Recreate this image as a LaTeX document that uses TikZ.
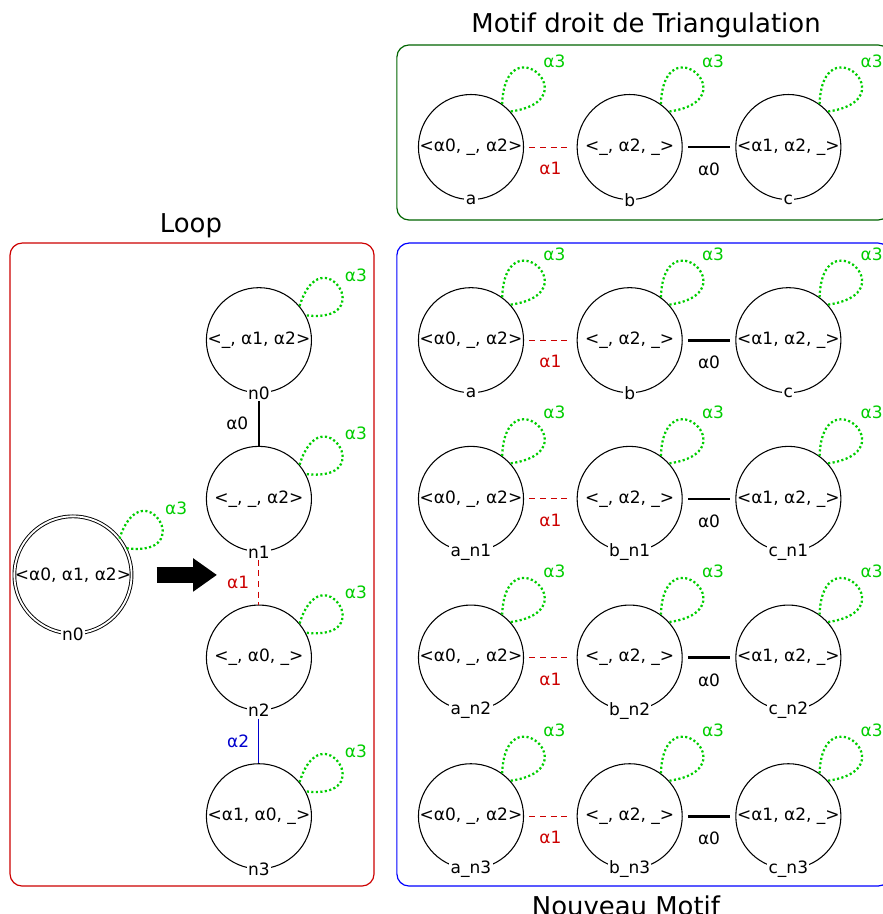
\documentclass[tikz,border=0pt]{standalone}
\usepackage{fontspec}
\setmainfont{DejaVu Sans}
\usetikzlibrary{arrows.meta, positioning}
\definecolor{loopRed}{RGB}{204,0,0}
\definecolor{motifGreen}{RGB}{0,100,0}
\definecolor{newBlue}{RGB}{0,0,255}
\definecolor{alphaGreen}{RGB}{0,205,0}
\definecolor{alphaRed}{RGB}{204,0,0}
\definecolor{alphaBlue}{RGB}{0,0,205}
\newcommand{\dartfont}{\fontsize{12.8}{15}\selectfont}
\newcommand{\titlefont}{\fontsize{19.5}{23}\selectfont}

\begin{document}
\begin{tikzpicture}[
    dart/.style={circle, draw, line width=0.8pt, minimum size=2.78cm, inner sep=0pt, font=\dartfont},
    bigdart/.style={dart, double, line width=0.7pt, double distance=1.4pt, minimum size=3.1cm},
    dartname/.style={fill=white, inner sep=1pt, anchor=center, font=\dartfont},
    alphalabel/.style={font=\dartfont, inner sep=1pt},
    alphathree/.style={alphalabel, text=alphaGreen, pos=0.5, anchor=south west, inner sep=3.5pt},
    alphazero/.style={line width=2pt},
    alphaone/.style={draw=alphaRed, line width=0.8pt, dash pattern=on 4.5pt off 3.5pt},
    alphatwo/.style={draw=alphaBlue, line width=0.8pt},
    gap/.style={shorten <=4pt, shorten >=4pt},
    selfloop/.style={draw=alphaGreen, line width=1.7pt, dash pattern=on 1.6pt off 1.8pt},
    fatarrow/.style={line width=12pt, -{Triangle[length=18pt, width=24pt]}, shorten <=0.65cm},
    cluster/.style={line width=0.9pt, rounded corners=0.32cm}
  ]
  \useasboundingbox (0,0) rectangle (23.36,-24.18);
  \clip (0,0) rectangle (23.36,-24.18);

  % clusters and titles
  \draw[cluster, draw=loopRed] (0.265,-6.43) rectangle (9.895,-23.44);
  \draw[cluster, draw=motifGreen] (10.50,-1.19) rectangle (23.55,-5.82);
  \draw[cluster, draw=newBlue] (10.50,-6.43) rectangle (23.55,-23.44);
  \node[font=\titlefont] (looptitle) at (5.05,-5.98) {Loop};
  \node[font=\titlefont] (motiftitle) at (17.09,-0.66) {Motif droit de Triangulation};
  \node[font=\titlefont] (newtitle) at (16.56,-23.97) {Nouveau Motif};

  % loop
  \node[bigdart, label={[dartname]south:n0}] (loopn0) at (1.93,-15.21) {<α0, α1, α2>};
  \coordinate (arrowtip) at (5.74,-15.21);
  \draw[fatarrow] (loopn0) -- (arrowtip);

  \node[dart, label={[dartname, name=n0l]south:n0}] (n0) at (6.85,-9.0) {<\_, α1, α2>};
  \node[dart, below=1.39cm of n0, label={[dartname, name=n1l]south:n1}] (n1) {<\_, \_, α2>};
  \node[dart, below=1.39cm of n1, label={[dartname, name=n2l]south:n2}] (n2) {<\_, α0, \_>};
  \node[dart, below=1.39cm of n2, label={[dartname, name=n3l]south:n3}] (n3) {<α1, α0, \_>};

  \draw[alphazero] (n0l) -- node[alphalabel, left=6pt] {α0} (n1);
  \draw[alphaone] (n1l) -- node[alphalabel, text=alphaRed, left=6pt] {α1} (n2);
  \draw[alphatwo] (n2l) -- node[alphalabel, text=alphaBlue, left=6pt] {α2} (n3);

  \draw[selfloop] (loopn0.38) .. controls +(72:2cm) and +(-8:2cm) .. (loopn0.27) node[alphathree] {α3};
  \draw[selfloop] (n0.40) .. controls +(73:2cm) and +(-7:2cm) .. (n0.28) node[alphathree] {α3};
  \draw[selfloop] (n1.40) .. controls +(73:2cm) and +(-7:2cm) .. (n1.28) node[alphathree] {α3};
  \draw[selfloop] (n2.40) .. controls +(73:2cm) and +(-7:2cm) .. (n2.28) node[alphathree] {α3};
  \draw[selfloop] (n3.40) .. controls +(73:2cm) and +(-7:2cm) .. (n3.28) node[alphathree] {α3};

  % motif droit
  \node[dart, label={[dartname]south:a}] (ma) at (12.46,-3.89) {<α0, \_, α2>};
  \node[dart, right=1.39cm of ma, label={[dartname]south:b}] (mb) {<\_, α2, \_>};
  \node[dart, right=1.39cm of mb, label={[dartname]south:c}] (mc) {<α1, α2, \_>};
  \draw[alphaone, gap] (ma) -- node[alphalabel, text=alphaRed, below=10pt] {α1} (mb);
  \draw[alphazero, gap] (mb) -- node[alphalabel, below=10pt] {α0} (mc);

  % nouveau motif
  \node[dart, label={[dartname]south:a}] (a0) at (12.46,-9.0) {<α0, \_, α2>};
  \node[dart, right=1.39cm of a0, label={[dartname]south:b}] (b0) {<\_, α2, \_>};
  \node[dart, right=1.39cm of b0, label={[dartname]south:c}] (c0) {<α1, α2, \_>};
  \node[dart, below=1.39cm of a0, label={[dartname]south:a\_n1}] (an1) {<α0, \_, α2>};
  \node[dart, below=1.39cm of b0, label={[dartname]south:b\_n1}] (bn1) {<\_, α2, \_>};
  \node[dart, below=1.39cm of c0, label={[dartname]south:c\_n1}] (cn1) {<α1, α2, \_>};
  \node[dart, below=1.39cm of an1, label={[dartname]south:a\_n2}] (an2) {<α0, \_, α2>};
  \node[dart, below=1.39cm of bn1, label={[dartname]south:b\_n2}] (bn2) {<\_, α2, \_>};
  \node[dart, below=1.39cm of cn1, label={[dartname]south:c\_n2}] (cn2) {<α1, α2, \_>};
  \node[dart, below=1.39cm of an2, label={[dartname]south:a\_n3}] (an3) {<α0, \_, α2>};
  \node[dart, below=1.39cm of bn2, label={[dartname]south:b\_n3}] (bn3) {<\_, α2, \_>};
  \node[dart, below=1.39cm of cn2, label={[dartname]south:c\_n3}] (cn3) {<α1, α2, \_>};

  \draw[alphaone, gap] (a0) -- node[alphalabel, text=alphaRed, below=10pt] {α1} (b0);
  \draw[alphazero, gap] (b0) -- node[alphalabel, below=10pt] {α0} (c0);
  \draw[alphaone, gap] (an1) -- node[alphalabel, text=alphaRed, below=10pt] {α1} (bn1);
  \draw[alphazero, gap] (bn1) -- node[alphalabel, below=10pt] {α0} (cn1);
  \draw[alphaone, gap] (an2) -- node[alphalabel, text=alphaRed, below=10pt] {α1} (bn2);
  \draw[alphazero, gap] (bn2) -- node[alphalabel, below=10pt] {α0} (cn2);
  \draw[alphaone, gap] (an3) -- node[alphalabel, text=alphaRed, below=10pt] {α1} (bn3);
  \draw[alphazero, gap] (bn3) -- node[alphalabel, below=10pt] {α0} (cn3);

  \draw[selfloop] (ma.54) .. controls +(88:2.15cm) and +(8:2.15cm) .. (ma.42) node[alphathree] {α3};
  \draw[selfloop] (mb.54) .. controls +(88:2.15cm) and +(8:2.15cm) .. (mb.42) node[alphathree] {α3};
  \draw[selfloop] (mc.54) .. controls +(88:2.15cm) and +(8:2.15cm) .. (mc.42) node[alphathree] {α3};
  \draw[selfloop] (a0.54) .. controls +(88:2.15cm) and +(8:2.15cm) .. (a0.42) node[alphathree] {α3};
  \draw[selfloop] (b0.54) .. controls +(88:2.15cm) and +(8:2.15cm) .. (b0.42) node[alphathree] {α3};
  \draw[selfloop] (c0.54) .. controls +(88:2.15cm) and +(8:2.15cm) .. (c0.42) node[alphathree] {α3};
  \draw[selfloop] (an1.54) .. controls +(88:2.15cm) and +(8:2.15cm) .. (an1.42) node[alphathree] {α3};
  \draw[selfloop] (bn1.54) .. controls +(88:2.15cm) and +(8:2.15cm) .. (bn1.42) node[alphathree] {α3};
  \draw[selfloop] (cn1.54) .. controls +(88:2.15cm) and +(8:2.15cm) .. (cn1.42) node[alphathree] {α3};
  \draw[selfloop] (an2.54) .. controls +(88:2.15cm) and +(8:2.15cm) .. (an2.42) node[alphathree] {α3};
  \draw[selfloop] (bn2.54) .. controls +(88:2.15cm) and +(8:2.15cm) .. (bn2.42) node[alphathree] {α3};
  \draw[selfloop] (cn2.54) .. controls +(88:2.15cm) and +(8:2.15cm) .. (cn2.42) node[alphathree] {α3};
  \draw[selfloop] (an3.54) .. controls +(88:2.15cm) and +(8:2.15cm) .. (an3.42) node[alphathree] {α3};
  \draw[selfloop] (bn3.54) .. controls +(88:2.15cm) and +(8:2.15cm) .. (bn3.42) node[alphathree] {α3};
  \draw[selfloop] (cn3.54) .. controls +(88:2.15cm) and +(8:2.15cm) .. (cn3.42) node[alphathree] {α3};
\end{tikzpicture}
\end{document}
